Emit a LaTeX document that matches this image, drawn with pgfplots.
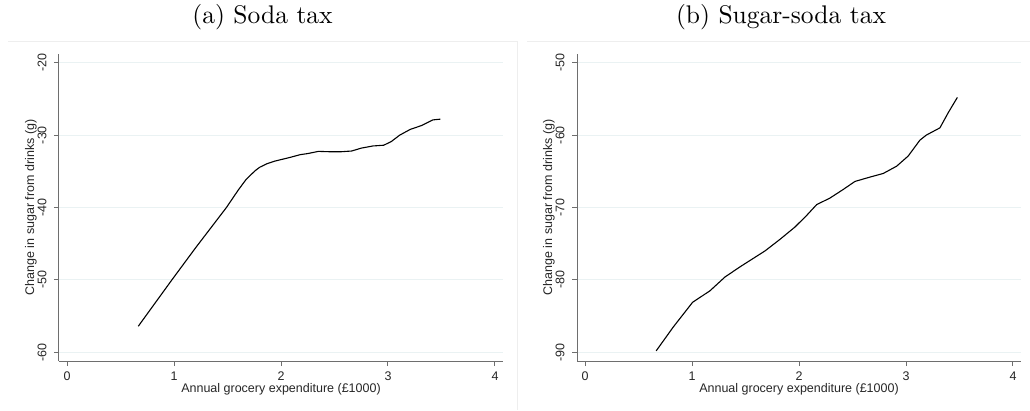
\documentclass[border=0pt]{standalone}
\usepackage{pgfplots}
\pgfplotsset{compat=1.18}
\usepackage{fontspec}
\setmainfont{Liberation Sans}
\newfontfamily\titlefont{lmroman10-regular}[Extension=.otf]
\definecolor{gridc}{HTML}{EAF2F3}
\definecolor{axc}{HTML}{6E6E6E}
\definecolor{framec}{HTML}{EEEEEE}

\pgfplotstableread{
x y
0.666 -56.4
0.98 -50.0
1.20 -45.6
1.49 -40.0
1.60 -37.6
1.67 -36.2
1.71 -35.6
1.76 -34.9
1.80 -34.45
1.87 -33.95
1.94 -33.6
2.08 -33.1
2.18 -32.7
2.25 -32.55
2.35 -32.25
2.46 -32.3
2.56 -32.3
2.66 -32.2
2.75 -31.8
2.86 -31.5
2.96 -31.4
3.03 -30.9
3.11 -30.0
3.21 -29.2
3.31 -28.7
3.42 -27.9
3.49 -27.8
}\sodatax

\pgfplotstableread{
x y
0.665 -89.8
0.825 -86.5
1.005 -83.1
1.168 -81.5
1.308 -79.6
1.448 -78.2
1.682 -76.0
1.822 -74.4
1.962 -72.7
2.071 -71.1
2.165 -69.6
2.289 -68.7
2.414 -67.5
2.523 -66.4
2.663 -65.8
2.787 -65.3
2.912 -64.3
3.020 -62.9
3.130 -60.7
3.190 -60.0
3.317 -59.0
3.395 -56.9
3.480 -54.8
}\sugarsodatax

\pgfplotsset{stata/.style={
  scale only axis, width=444pt, height=307pt,
  anchor=south west,
  axis lines*=left,
  axis line style={axc, line width=1pt},
  tick align=outside, major tick length=5pt,
  tick style={axc, line width=1pt},
  minor tick num=0,
  xmin=-0.075, xmax=4.075, xtick={0,1,2,3,4},
  xticklabels={0,1,2,3,4},
  ymajorgrids, grid style={gridc, line width=1pt},
  tick label style={font=\fontsize{12.5}{15}\selectfont, text=black!85},
  xticklabel shift=0pt, yticklabel shift=0pt,
  xticklabel style={anchor=center, yshift=-10pt},
  yticklabel style={xshift=-12pt, rotate=90, anchor=center},
  label style={font=\fontsize{12.5}{15}\selectfont, text=black!85},
  xlabel={Annual grocery expenditure (£1000)},
  ylabel={Change in sugar from drinks (g)},
  xlabel style={at={(axis description cs:0.5,-0.1042)}, anchor=base},
  ylabel style={at={(axis description cs:-0.0563,0.5)}, anchor=base},
  clip=false,
}}

\begin{document}
\begin{tikzpicture}[x=1pt,y=1pt]
\useasboundingbox (0pt,0pt) rectangle (1030pt,410pt);
\draw[framec, line width=0.8pt] (8pt,369pt) -- (517pt,369pt) -- (517pt,0pt);
\draw[framec, line width=0.8pt] (527pt,369pt) -- (1030pt,369pt);
\node[anchor=base, font=\titlefont\fontsize{25.5}{30}\selectfont] at (262.5pt,386pt) {(a) Soda tax};
\node[anchor=base, font=\titlefont\fontsize{25.5}{30}\selectfont] at (781pt,386pt) {(b) Sugar-soda tax};

\begin{axis}[stata, at={(59pt,49pt)},
  ymin=-61.2, ymax=-18.8, ytick={-60,-50,-40,-30,-20},
  yticklabels={-60,-50,-40,-30,-20}]
\addplot[black, line width=1.1pt, no markers] table[x=x,y=y] {\sodatax};
\end{axis}

\begin{axis}[stata, at={(577pt,49pt)},
  ymin=-91.2, ymax=-48.8, ytick={-90,-80,-70,-60,-50},
  yticklabels={-90,-80,-70,-60,-50}]
\addplot[black, line width=1.1pt, no markers] table[x=x,y=y] {\sugarsodatax};
\end{axis}
\end{tikzpicture}
\end{document}
